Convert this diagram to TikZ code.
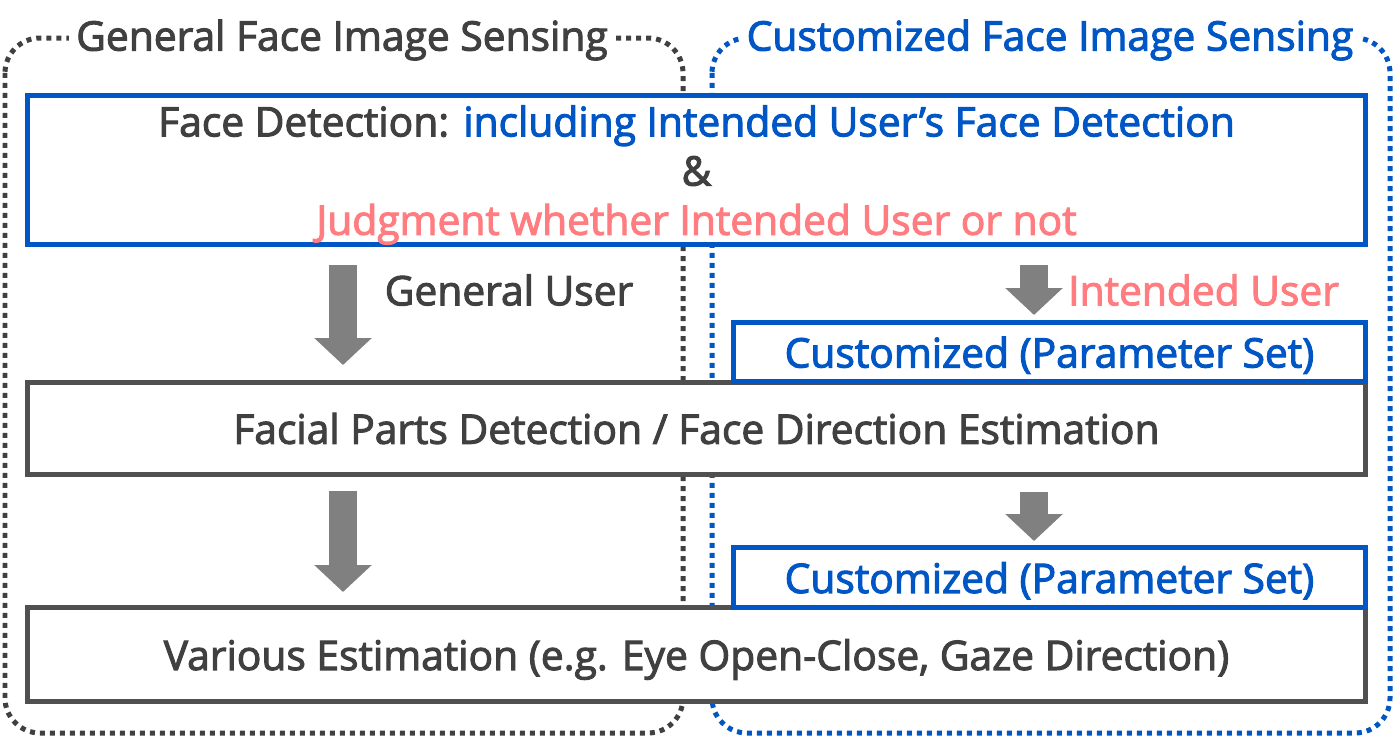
\documentclass[tikz,border=0pt]{standalone}
\usepackage{fontspec}
\setmainfont{Open Sans}
\newfontfamily\semisans{Open Sans}[FakeBold = 2.5]
\usetikzlibrary{arrows.meta}

\definecolor{txtgray}{HTML}{404040}
\definecolor{boxgray}{HTML}{505050}
\definecolor{arrgray}{HTML}{808080}
\definecolor{custblue}{HTML}{0056C4}
\definecolor{judgepink}{HTML}{FF7C80}

\begin{document}
\begin{tikzpicture} [
    x = 0.02cm, y = -0.02cm,
    every node/.style = {font = \semisans\fontsize{23.2}{28}\selectfont, text = txtgray},
    dotbox/.style = {line width = 0.1cm, dash pattern = on 0.1cm off 0.1cm, rounded corners = 0.7cm},
    title/.style = {fill = white, inner sep = 4pt},
    box/.style = {draw = boxgray, line width = 0.1cm, fill = white, minimum width = 26.78cm, inner sep = 0pt},
    custbox/.style = {draw = custblue, line width = 0.1cm, fill = white, minimum width = 12.66cm, minimum height = 1.2cm, inner sep = 0pt, text = custblue},
    bigarrow/.style = {draw = arrgray, line width = 0.56cm, -{Triangle[width = 1.12cm, length = 0.54cm]}}
]
\useasboundingbox (0,0) rectangle (1393,737);

% dotted frames
\draw [dotbox, txtgray] (5,38) rectangle (683,733);
\draw [dotbox, custblue] (712,38) rectangle (1390,733);
\node (general) at (342,40) [title] {General Face Image Sensing};
\node (custom) at (1050,40) [title, text = custblue] {Customized Face Image Sensing};

% boxes
\node (detect) at (696.5,170) [box, draw = custblue, minimum height = 3cm] {};
\node (detecttext) at (696.5,175) [align = center]
    {Face Detection: \textcolor{custblue}{including Intended User’s Face Detection}\\
     \&\\
     \textcolor{judgepink}{Judgment whether Intended User or not}};
\node (parts) at (696.5,428.5) [box, minimum height = 1.86cm] {Facial Parts Detection / Face Direction Estimation};
\node (various) at (696.5,654.5) [box, minimum height = 1.9cm, text depth = 0cm] {Various Estimation (e.g. Eye Open-Close, Gaze Direction)};
\node (cust1) at (1049.5,352) [custbox, text depth = 0cm] {Customized (Parameter Set)};
\node (cust2) at (1049.5,577.5) [custbox, text depth = 0cm] {Customized (Parameter Set)};

% arrows
\coordinate (g1) at (343,265);
\coordinate (g2) at (343,365);
\coordinate (g3) at (343,491);
\coordinate (g4) at (343,592);
\coordinate (c1) at (1034,265);
\coordinate (c2) at (1034,315);
\coordinate (c3) at (1034,492);
\coordinate (c4) at (1034,541);
\draw [bigarrow] (g1) -- (g2);
\draw [bigarrow] (g3) -- (g4);
\draw [bigarrow] (c1) -- (c2);
\draw [bigarrow] (c3) -- (c4);

% labels
\node (genuser) at (509,290) {General User};
\node (intuser) at (1062,290) [anchor = west, text = judgepink] {Intended User};

\end{tikzpicture}
\end{document}
